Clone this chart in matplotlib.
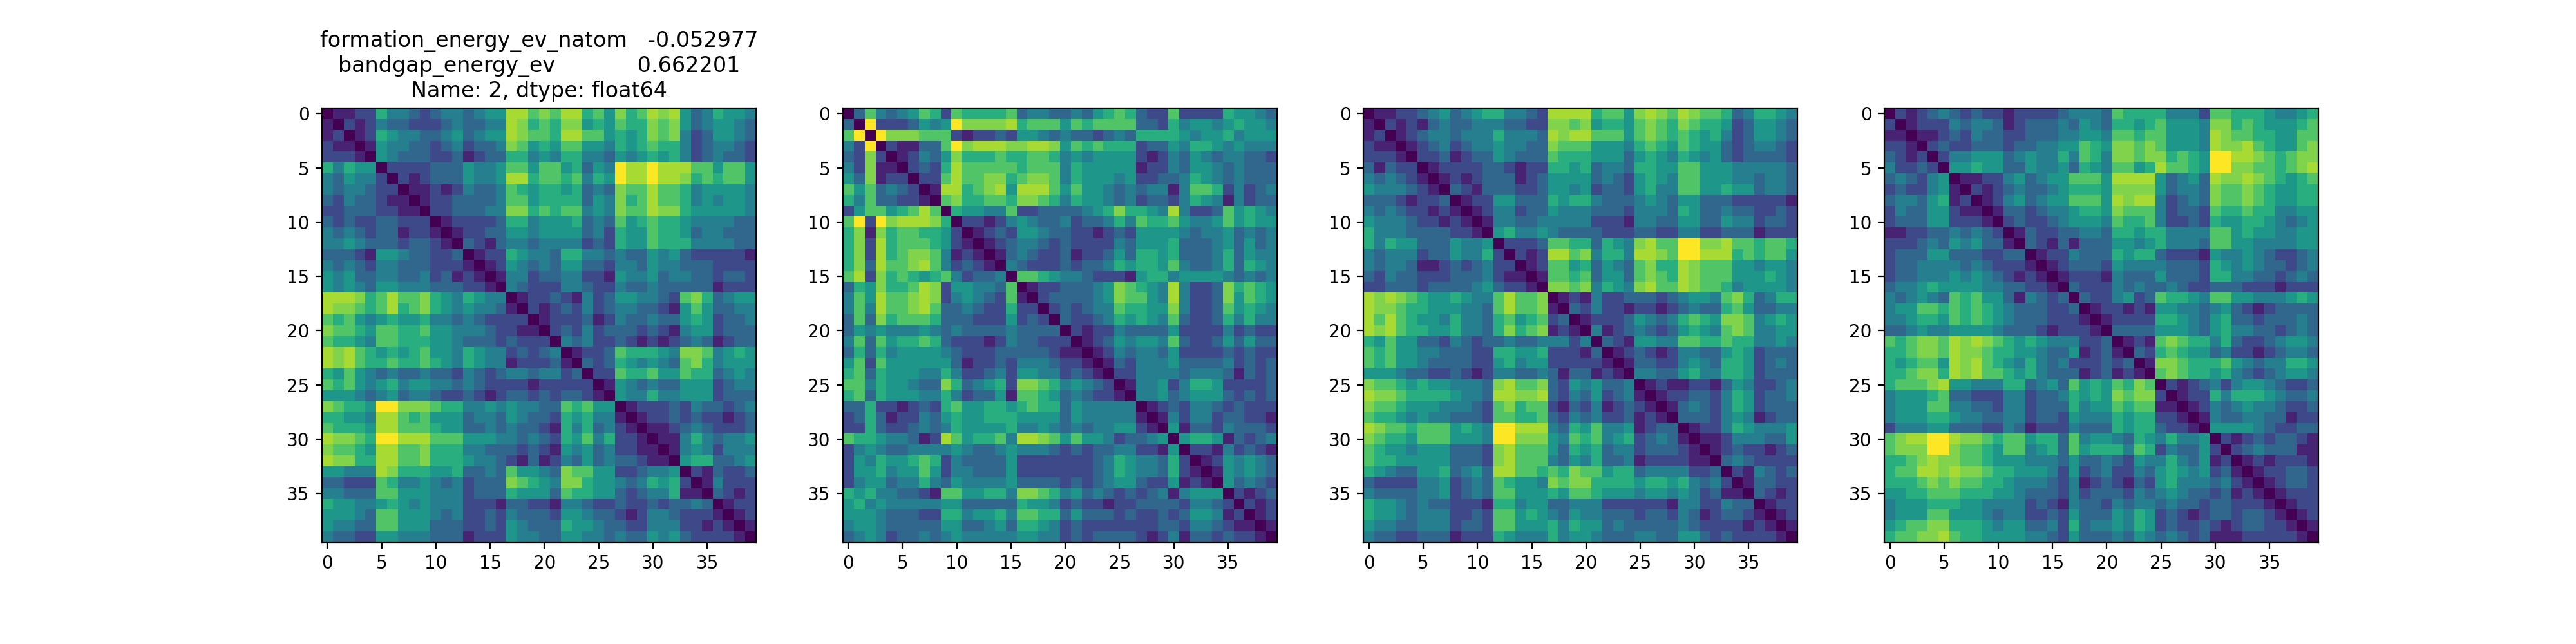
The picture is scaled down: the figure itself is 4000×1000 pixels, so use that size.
import numpy as np
import matplotlib
matplotlib.use("Agg")
import matplotlib.pyplot as plt

panel_1 = [
"1122 64432 34434 55997 87996 75867 98953 46554",
"212 43322 23433 44986 76885 65766 87853 45543",
"12 65443 34534 55987 76997 75656 87842 35543",
"1 54433 23423 34875 65775 54656 76642 34432",
"54333 22312 33664 54664 43545 65642 34332",
"2222 33354 45775 77563 54a99 a9997 75775",
"212 33354 45996 77674 65a99 a9986 76775",
"11 21243 34765 66563 43877 97764 55554",
"1 22333 34775 66663 54867 97764 54554",
"22333 44886 76774 54877 98865 55554",
"1222 23664 55563 43756 76654 44433",
"122 33554 55553 42655 76653 44333",
"32 13443 44442 32655 76664 44433",
"1 22654 43664 43433 54532 22221",
"12543 43553 32443 54433 32222",
"1442 33442 21544 53443 32332",
"432 22443 22433 43333 31222",
"12 23214 23554 43278 63455",
"2 12324 23443 32157 53344",
"12223 12433 43356 52334",
"2324 23332 32145 52333",
"434 22321 21234 31233",
"12 23766 65488 74565",
"3 23654 54378 64555",
"22766 75576 63454",
"1543 43355 52344",
"544 64455 52333",
"12 22324 33234",
"1 22323 22123",
"11234 32223",
"1146 43445",
"145 42444",
"56 63345",
"2 13223",
"14222",
"3212",
"122",
"12",
"1",
]

panel_2 = [
"3743 45762 76666 73443 34356 76322 72222 65543",
"a22 23545 a8888 96777 57677 77332 64554 56554",
"a8 88777 21223 25543 43323 43666 65455 64555",
"2 11337 a8999 88998 57676 66233 54665 45444",
"12435 86667 66776 45455 55212 43543 44332",
"2326 97777 76777 46555 55122 43554 34333",
"227 97788 67887 46555 45223 34654 34333",
"19 96789 59997 57554 34344 14776 24234",
"7 86677 68876 46554 34233 24654 14233",
"65544 72233 33456 86654 94223 75654",
"2212 45433 42334 64766 75445 75655",
"123 25543 32212 32555 54344 53434",
"12 34432 32222 43555 63334 53534",
"1 34322 31223 53665 63334 63544",
"43222 32334 65665 74334 63654",
"7765 44322 21566 45555 43434",
"122 33345 87654 94223 86765",
"23 33345 87754 94223 85765",
"2 32344 76655 84223 75654",
"32234 65654 73223 64644",
"2122 43333 52222 42322",
"123 54554 73223 53533",
"12 43443 52222 32322",
"1 32444 53333 42323",
"22444 43444 31323",
"1445 24665 22223",
"445 34555 32323",
"12 32443 23222",
"1 42442 33221",
"51332 43332",
"5665 13234",
"221 42321",
"12 54543",
"1 54543",
"53432",
"2123",
"212",
"12",
"1",
]

panel_3 = [
"1122 34534 56644 32999 96775 89879 87763 46654",
"212 13433 44433 22887 85665 78768 76652 35543",
"12 34434 44644 43989 97775 78767 65642 35543",
"1 23423 44544 33877 75554 67657 65532 34432",
"22312 33543 33766 65553 56546 54532 33332",
"1222 23321 22665 63443 66557 75554 44443",
"121 23331 23555 53432 56547 75554 43443",
"32 13332 23554 52332 56447 75565 53443",
"1 22553 33656 64333 45435 53332 22221",
"12442 33544 43332 44436 53343 32232",
"1443 34444 42221 44335 53354 42332",
"564 45433 33222 33224 42233 31222",
"22 23776 63654 8977a a8897 76776",
"2 12997 84664 9987a a9996 76775",
"12775 63543 78669 87775 54554",
"1776 73553 78769 87775 55654",
"887 84654 89779 87764 55554",
"12 14223 33234 55478 63466",
"3 24221 22123 43367 53344",
"12223 54346 76588 74565",
"4123 43235 65478 74455",
"321 55447 76676 64454",
"12 32124 43356 52333",
"1 33224 54366 52343",
"44335 64466 52333",
"1211 22135 42234",
"122 33246 52334",
"13 43246 52333",
"3 33245 41233",
"12246 54445",
"1124 44335",
"123 22123",
"34 32222",
"2 14323",
"13322",
"3212",
"122",
"12",
"1",
]

panel_4 = [
"2123 43232 21222 23444 37666 64442 77666 54456",
"122 24344 31233 34354 36656 75554 88676 55567",
"11 23243 32233 34455 47767 75554 98776 65577",
"2 32233 32334 45576 58878 75554 98897 65578",
"24455 53454 46476 48878 86765 aa998 76788",
"5565 53354 45365 47756 97765 aa887 76789",
"112 24534 55777 59999 53453 98898 76567",
"21 23433 45666 58888 53443 87787 65566",
"1 24534 55777 59899 42343 87787 65566",
"13323 44566 58777 42332 76676 64455",
"2322 34555 47667 42232 65566 54345",
"132 23344 36656 64444 77565 54455",
"32 13133 35545 64443 77554 44455",
"1 22433 36566 32221 54454 32234",
"12333 25444 43332 65454 33234",
"1222 14333 53332 66443 32343",
"322 24343 34322 33322 21222",
"32 24523 76654 77554 44565",
"1 22121 55443 45321 23333",
"12222 66543 56332 33343",
"3333 55543 56443 32343",
"121 78766 46322 34554",
"32 67655 34221 23443",
"1 88766 67543 44665",
"78766 56432 34554",
"2123 42455 43223",
"122 64666 54334",
"12 43454 43223",
"1 43344 33122",
"55554 32233",
"2123 23321",
"234 33311",
"12 12221",
"1 22332",
"12332",
"1222",
"122",
"12",
"1",
]

panels = [panel_1, panel_2, panel_3, panel_4]
title_text = ("formation_energy_ev_natom   -0.052977\n"
              "bandgap_energy_ev            0.662201\n"
              "Name: 2, dtype: float64")
ticks = [0, 5, 10, 15, 20, 25, 30, 35]
level_values = [0.0, 0.10, 0.22, 0.33, 0.43, 0.53, 0.63, 0.73, 0.81, 0.87, 1.0]
SIZE = 40


def to_matrix(rows):
    m = np.zeros((SIZE, SIZE))
    for i, row in enumerate(rows):
        digits = row.replace(" ", "")
        assert len(digits) == SIZE - 1 - i, (i, len(digits))
        for k, c in enumerate(digits):
            j = i + 1 + k
            m[i, j] = m[j, i] = level_values[int(c, 16)]
    return m


fig, axes = plt.subplots(1, 4, figsize=(20, 5), dpi=200)
for ax, rows in zip(axes, panels):
    ax.imshow(to_matrix(rows), cmap="viridis", vmin=0, vmax=1)
    ax.set_xticks(ticks)
    ax.set_yticks(ticks)
axes[0].set_title(title_text)
fig.savefig("out.png")
